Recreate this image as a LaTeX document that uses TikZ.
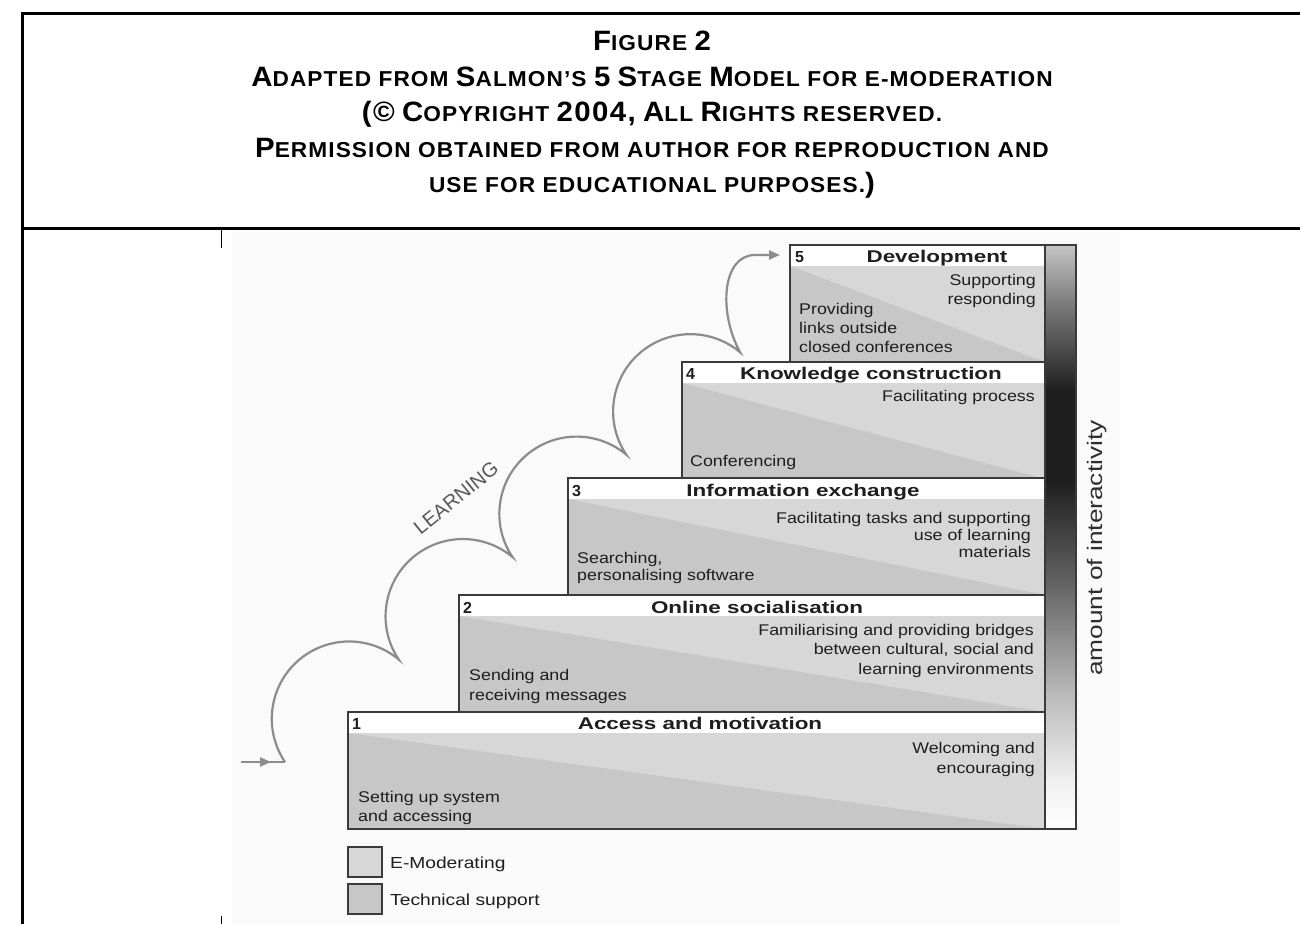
\documentclass[tikz,border=0pt]{standalone}
\usepackage{fontspec}
\setmainfont{Liberation Sans}
\newfontfamily\titlefont[LetterSpace=5,FakeStretch=1.05]{Liberation Sans}
\newfontfamily\headfont[FakeStretch=1.32]{Liberation Sans}
\newfontfamily\bodyfont[FakeStretch=1.15]{Liberation Sans}
\newfontfamily\legfont[FakeStretch=1.2]{Liberation Sans}
\newfontfamily\sidefont[FakeStretch=1.25]{Liberation Sans}
\newfontfamily\plainfont{Liberation Sans}
\usetikzlibrary{arrows.meta}
\definecolor{lightfill}{HTML}{D7D7D7}
\definecolor{darkfill}{HTML}{C7C7C7}
\definecolor{boxline}{HTML}{3A3A3A}
\definecolor{curvegray}{HTML}{8C8C8C}
\definecolor{textdark}{HTML}{1E1E1E}
\definecolor{paper}{HTML}{FAFAFA}
\newcommand\BL[1]{{\fontsize{28}{30}\selectfont #1}}
\newcommand\stepbox[2]{%
  \fill[lightfill] (#1,-#2-21) rectangle (1045,-#2-117);
  \fill[darkfill] (#1,-#2-21) -- (#1,-#2-117) -- (1045,-#2-117) -- cycle;
  \fill[white] (#1,-#2) rectangle (1045,-#2-21);
  \draw[boxline,line width=1.8] (#1,-#2) rectangle (1045,-#2-117);}
\tikzset{
  titletext/.style={anchor=base, inner sep=0pt, font=\titlefont\bfseries\fontsize{21.6}{24}\selectfont, text=black},
  headtext/.style={anchor=base, inner sep=0pt, font=\headfont\bfseries\fontsize{17}{20}\selectfont, text=textdark},
  numtext/.style={anchor=base west, inner sep=0pt, font=\plainfont\bfseries\fontsize{16}{18}\selectfont, text=textdark},
  bodyR/.style={anchor=base east, inner sep=0pt, font=\bodyfont\fontsize{15.5}{18}\selectfont, text=textdark},
  bodyL/.style={anchor=base west, inner sep=0pt, font=\bodyfont\fontsize{15.5}{18}\selectfont, text=textdark},
  legtext/.style={anchor=base west, inner sep=0pt, font=\legfont\fontsize{16}{20}\selectfont, text=textdark},
  legbox/.style={draw=boxline, line width=1.8pt, minimum width=34pt, minimum height=30pt, inner sep=0pt},
  curve/.style={draw=curvegray, line width=2.2pt},
  frameline/.style={line width=3pt, draw=black},
  tip/.style={-{Triangle[length=11pt,width=9pt]}},
}
\begin{document}
\begin{tikzpicture}[x=1pt,y=1pt]
\useasboundingbox (0,0) rectangle (1300,-924);
\fill[white] (0,0) rectangle (1300,-924);
\fill[paper] (232,-231) rectangle (1120,-924);
% frame
\draw[frameline] (1300,-13) -- (22,-13) -- (22,-924);
\draw[frameline] (22,-228) -- (1300,-228);
\draw[line width=0.8pt] (221,-230) -- (221,-248);
\draw[line width=0.8pt] (221,-916) -- (221,-924);
% title
\node[titletext] (t1) at (652,-50) {\BL{F}IGURE \BL{2}};
\node[titletext] (t2) at (652,-86) {\BL{A}DAPTED FROM \BL{S}ALMON’S \BL{5} \BL{S}TAGE \BL{M}ODEL FOR E-MODERATION};
\node[titletext] (t3) at (652,-121) {\BL{(©} \BL{C}OPYRIGHT \BL{2004,} \BL{A}LL \BL{R}IGHTS RESERVED.};
\node[titletext] (t4) at (652,-157) {\BL{P}ERMISSION OBTAINED FROM AUTHOR FOR REPRODUCTION AND};
\node[titletext] (t5) at (652,-192) {USE FOR EDUCATIONAL PURPOSES.\BL{)}};
% steps
\stepbox{790}{245}
\stepbox{682}{362}
\stepbox{568}{478}
\stepbox{459}{595}
\stepbox{348}{712}
% interactivity bar
\shade[top color=black!23, bottom color=black!50] (1045,-245) rectangle (1076,-301);
\shade[top color=black!50, bottom color=black!88] (1045,-300) rectangle (1076,-391);
\shade[top color=black!88, bottom color=black!88] (1045,-390) rectangle (1076,-481);
\shade[top color=black!88, bottom color=black!62] (1045,-480) rectangle (1076,-581);
\shade[top color=black!62, bottom color=black!28] (1045,-580) rectangle (1076,-691);
\shade[top color=black!28, bottom color=black!6] (1045,-690) rectangle (1076,-781);
\shade[top color=black!6, bottom color=white] (1045,-780) rectangle (1076,-829);
\draw[boxline,line width=1.8] (1045,-245) rectangle (1076,-829);
\node[anchor=center, rotate=90, inner sep=0pt, font=\sidefont\fontsize{21}{22}\selectfont, text=black!82] (side) at (1097,-548) {amount of interactivity};
% step 5
\node[numtext] (n5) at (795,-262) {5};
\node[headtext] (h5) at (937,-262) {Development};
\node[bodyR] (s5a) at (1036,-285) {Supporting};
\node[bodyR] (s5b) at (1036,-304) {responding};
\node[bodyL] (s5c) at (799,-314) {Providing};
\node[bodyL] (s5d) at (799,-333) {links outside};
\node[bodyL] (s5e) at (799,-352) {closed conferences};
% step 4
\node[numtext] (n4) at (686,-379) {4};
\node[headtext] (h4) at (871,-379) {Knowledge construction};
\node[bodyR] (s4a) at (1035,-401) {Facilitating process};
\node[bodyL] (s4b) at (690,-466) {Conferencing};
% step 3
\node[numtext] (n3) at (572,-496) {3};
\node[headtext] (h3) at (803,-496) {Information exchange};
\node[bodyR] (s3a) at (1031,-523) {Facilitating tasks and supporting};
\node[bodyR] (s3b) at (1031,-540) {use of learning};
\node[bodyR] (s3c) at (1031,-557) {materials};
\node[bodyL] (s3d) at (577,-563) {Searching,};
\node[bodyL] (s3e) at (577,-580) {personalising software};
% step 2
\node[numtext] (n2) at (463,-613) {2};
\node[headtext] (h2) at (757,-613) {Online socialisation};
\node[bodyR] (s2a) at (1034,-635) {Familiarising and providing bridges};
\node[bodyR] (s2b) at (1034,-654) {between cultural, social and};
\node[bodyR] (s2c) at (1034,-674) {learning environments};
\node[bodyL] (s2d) at (469,-680) {Sending and};
\node[bodyL] (s2e) at (469,-700) {receiving messages};
% step 1
\node[numtext] (n1) at (352,-729) {1};
\node[headtext] (h1) at (700,-729) {Access and motivation};
\node[bodyR] (s1a) at (1035,-753) {Welcoming and};
\node[bodyR] (s1b) at (1035,-773) {encouraging};
\node[bodyL] (s1c) at (358,-802) {Setting up system};
\node[bodyL] (s1d) at (358,-821) {and accessing};
% learning curve
\coordinate (cin) at (241,-762);
\coordinate (cA) at (285,-762);
\draw[curve] (cin) -- (cA);
\draw[curve,tip] (cin) -- (271,-762);
\draw[curve,tip] (cA) arc[start angle=214,end angle=50,radius=77.3]
  arc[start angle=214,end angle=50,radius=77.3]
  arc[start angle=214,end angle=50,radius=77.3]
  arc[start angle=214,end angle=50,radius=77.3]
  .. controls +(-22,40) and (722,-255) .. (755,-255) -- (780,-255);
\node[rotate=39, inner sep=0pt, font=\plainfont\fontsize{20}{22}\selectfont, text=black!65] (learn) at (456,-498) {LEARNING};
% legend
\node[legbox, fill=lightfill] (lg1) at (365,-862) {};
\node[legbox, fill=darkfill] (lg2) at (365,-899) {};
\node[legtext] (lt1) at (390,-868) {E-Moderating};
\node[legtext] (lt2) at (390,-905) {Technical support};
\end{tikzpicture}
\end{document}
